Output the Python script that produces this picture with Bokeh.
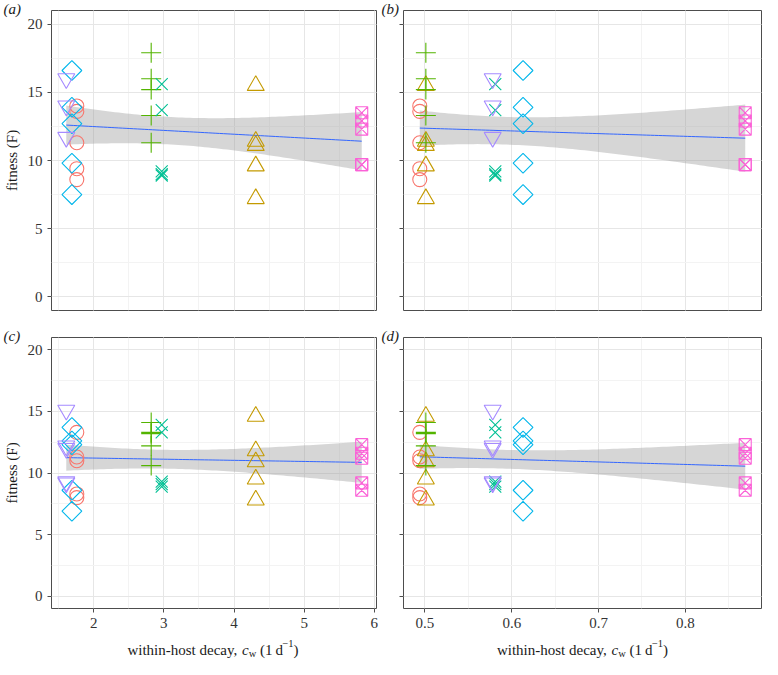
import numpy as np
from bokeh.plotting import figure
from bokeh.layouts import column, row
from bokeh.models import Range1d, SingleIntervalTicker, Title, CustomLabelingPolicy
from bokeh.core.properties import value
from bokeh.embed import file_html
from bokeh.resources import INLINE

# ---------------- data ----------------
groups = ["circle", "triangle", "plus", "cross", "diamond", "tri_down", "square_x"]
colors = ["#F8766D", "#C49A00", "#53B400", "#00C094", "#00B6EB", "#A58AFF", "#FB61D7"]

# within-host decay of each group (x of panels a & c, and of panels b & d)
cw_left = [1.76, 4.31, 2.82, 2.97, 1.69, 1.61, 5.82]
cw_right = [0.494, 0.501, 0.501, 0.581, 0.613, 0.578, 0.869]

# fitness, top row (panels a, b)
top_circle = [14.0, 13.6, 11.3, 9.4, 8.6]
top_triangle = [15.5, 11.4, 11.1, 9.6, 7.2]
top_plus = [17.9, 16.0, 15.2, 13.3, 11.3]
top_cross = [15.6, 13.7, 9.2, 9.0, 8.9]
top_diamond = [16.6, 13.9, 12.7, 9.8, 7.5]
top_tri_down = [16.0, 14.0, 11.7]
top_square_x = [13.5, 12.9, 12.3, 9.7, 9.7]

# fitness, bottom row (panels c, d)
bot_circle = [13.3, 11.3, 11.0, 8.3, 8.0]
bot_triangle = [14.6, 11.8, 10.9, 9.5, 7.8]
bot_plus = [14.1, 13.3, 13.2, 12.2, 10.6]
bot_cross = [13.9, 13.3, 9.3, 9.1, 8.9]
bot_diamond = [13.7, 12.6, 12.3, 8.6, 6.9]
bot_tri_down = [15.1, 12.2, 12.0, 9.3, 9.2]
bot_square_x = [12.3, 11.6, 11.2, 9.2, 8.6]

top_vals = [top_circle, top_triangle, top_plus, top_cross, top_diamond, top_tri_down, top_square_x]
bot_vals = [bot_circle, bot_triangle, bot_plus, bot_cross, bot_diamond, bot_tri_down, bot_square_x]

panel_tags = ["(a)", "(b)", "(c)", "(d)"]
y_label = "fitness (F)"
x_label_parts = ["within-host decay,", "c", "w", "(1\u2009d", "\u22121", ")"]

# ---------------- style ----------------
SERIF = "Liberation Serif"
FS = "15px"
TEXT_COL = "#1a1a1a"
marker_style = {
    "circle": dict(marker="circle", size=14, angle=0.0),
    "triangle": dict(marker="triangle", size=17, angle=0.0),
    "plus": dict(marker="cross", size=20, angle=0.0),
    "cross": dict(marker="x", size=17, angle=0.0),
    "diamond": dict(marker="square", size=14, angle=np.pi / 4),
    "tri_down": dict(marker="inverted_triangle", size=17, angle=0.0),
    "square_x": dict(marker="square_x", size=12, angle=0.0),
}
T975 = 2.035  # t quantile for the 95% band


def lm_band(xs, ys):
    x = np.asarray(xs, float)
    y = np.asarray(ys, float)
    n = len(x)
    b, a = np.polyfit(x, y, 1)
    s = np.sqrt(np.sum((y - (a + b * x)) ** 2) / (n - 2))
    xx = np.linspace(x.min(), x.max(), 80)
    se = s * np.sqrt(1 / n + (xx - x.mean()) ** 2 / np.sum((x - x.mean()) ** 2))
    yy = a + b * xx
    return xx, yy, yy - T975 * se, yy + T975 * se


def make_panel(xcat, vals, width, height, bl, br, bt, bb, left_labels, bottom_axis,
               interval, tag, tag_offset, tag_standoff):
    xs_all = np.concatenate([[xcat[i]] * len(v) for i, v in enumerate(vals)])
    ys_all = np.concatenate(vals)
    span = xs_all.max() - xs_all.min()
    p = figure(width=width, height=height, output_backend="svg", toolbar_location=None,
               x_range=Range1d(xs_all.min() - 0.05 * span, xs_all.max() + 0.05 * span),
               y_range=Range1d(-1, 21),
               min_border_left=bl, min_border_right=br, min_border_top=bt, min_border_bottom=bb)
    p.background_fill_color = "white"
    p.border_fill_color = "white"
    p.outline_line_color = "#4d4d4d"
    p.outline_line_width = 1

    xt = SingleIntervalTicker(interval=interval, num_minor_ticks=2)
    yt = SingleIntervalTicker(interval=5, num_minor_ticks=2)
    p.xaxis.ticker = xt
    p.yaxis.ticker = yt
    p.xgrid.ticker = xt
    p.ygrid.ticker = yt
    for g in (p.xgrid, p.ygrid):
        g.grid_line_color = "#e6e6e6"
        g.grid_line_width = 1
        g.minor_grid_line_color = "#f3f3f3"
        g.minor_grid_line_width = 1

    for ax in (p.xaxis, p.yaxis):
        ax.axis_line_color = None
        ax.major_tick_in = 0
        ax.major_tick_out = 4
        ax.major_tick_line_color = "#4d4d4d"
        ax.minor_tick_line_color = None
        ax.major_label_text_font = SERIF
        ax.major_label_text_font_size = FS
        ax.major_label_text_color = "#333333"
        ax.major_label_standoff = 5

    if left_labels:
        p.yaxis.axis_label = y_label
        p.yaxis.axis_label_text_font = SERIF
        p.yaxis.axis_label_text_font_size = FS
        p.yaxis.axis_label_text_font_style = "normal"
        p.yaxis.axis_label_text_color = TEXT_COL
        p.yaxis.axis_label_standoff = 5
    else:
        p.yaxis.major_label_policy = CustomLabelingPolicy(code="return new Set()")
        p.yaxis.major_label_text_font_size = "0px"
        p.yaxis.major_label_standoff = 0

    if not bottom_axis:
        p.xaxis.visible = False
    else:
        p.xaxis.major_label_standoff = 5
        if interval < 1:
            p.xaxis.formatter.use_scientific = False

    xx, yy, lo, hi = lm_band(xs_all, ys_all)
    p.varea(x=xx, y1=lo, y2=hi, fill_color="#999999", fill_alpha=0.4)
    p.line(xx, yy, line_color="#3366FF", line_width=1)

    for i, g in enumerate(groups):
        st = marker_style[g]
        p.scatter([xcat[i]] * len(vals[i]), vals[i], marker=st["marker"], size=st["size"],
                  angle=st["angle"], line_color=colors[i], fill_color=None, line_width=1.1)

    p.add_layout(Title(text=tag, align="left", vertical_align="bottom",
                       offset=tag_offset, standoff=tag_standoff,
                       text_font=SERIF, text_font_size=FS, text_font_style="italic",
                       text_color=TEXT_COL), "above")
    return p


def label_strip(width, height, bl, br):
    """A bare strip under a panel that carries the composed x-axis label."""
    s = figure(width=width, height=height, output_backend="svg", toolbar_location=None,
               x_range=Range1d(0, width), y_range=Range1d(0, height),
               x_axis_type=None, y_axis_type=None,
               min_border_left=0, min_border_right=0, min_border_top=0, min_border_bottom=0)
    s.outline_line_color = None
    s.background_fill_color = "white"
    s.border_fill_color = "white"
    s.xgrid.visible = False
    s.ygrid.visible = False
    fs, small = 15.0, 10.5
    base = height - 13
    # (size, style, vertical shift, advance width in em incl. following space) per part
    fmt = [(fs, "normal", 0.0, 7.638), (fs, "italic", 0.0, 0.444), (small, "normal", -3.5, 0.722 + 0.35),
           (fs, "normal", 0.0, 1.5), (small, "normal", 6.0, 1.064), (fs, "normal", 0.0, 0.333)]
    total = sum(sz * em for sz, _, _, em in fmt)
    x0 = bl + (width - bl - br) / 2 - total / 2
    for txt, (sz, style, dy, em) in zip(x_label_parts, fmt):
        s.text(x=[x0], y=[base + dy], text=[txt], text_font=value(SERIF),
               text_font_size=value(f"{sz}px"), text_font_style=value(style),
               text_color=TEXT_COL, text_baseline="alphabetic", text_align="left")
        x0 += sz * em
    return s


W = 381
H_TOP = 323
H_BOT = 313
H_LAB = 23

pa = make_panel(cw_left, top_vals, W, H_TOP, 49, 5, 10, 13, True, False, 1, panel_tags[0], -48, -12)
pb = make_panel(cw_right, top_vals, W, H_TOP, 22, 1, 10, 13, False, False, 0.1, panel_tags[1], -22, -12)
pc = make_panel(cw_left, bot_vals, W, H_BOT, 49, 5, 14, 28, True, True, 1, panel_tags[2], -48, -13)
pd = make_panel(cw_right, bot_vals, W, H_BOT, 22, 1, 14, 28, False, True, 0.1, panel_tags[3], -22, -13)

sc = label_strip(W, H_LAB, 49, 5)
sd = label_strip(W, H_LAB, 22, 1)

layout = column(row(pa, pb), row(pc, pd), row(sc, sd))
open("out.html", "w").write(file_html(layout, INLINE))
